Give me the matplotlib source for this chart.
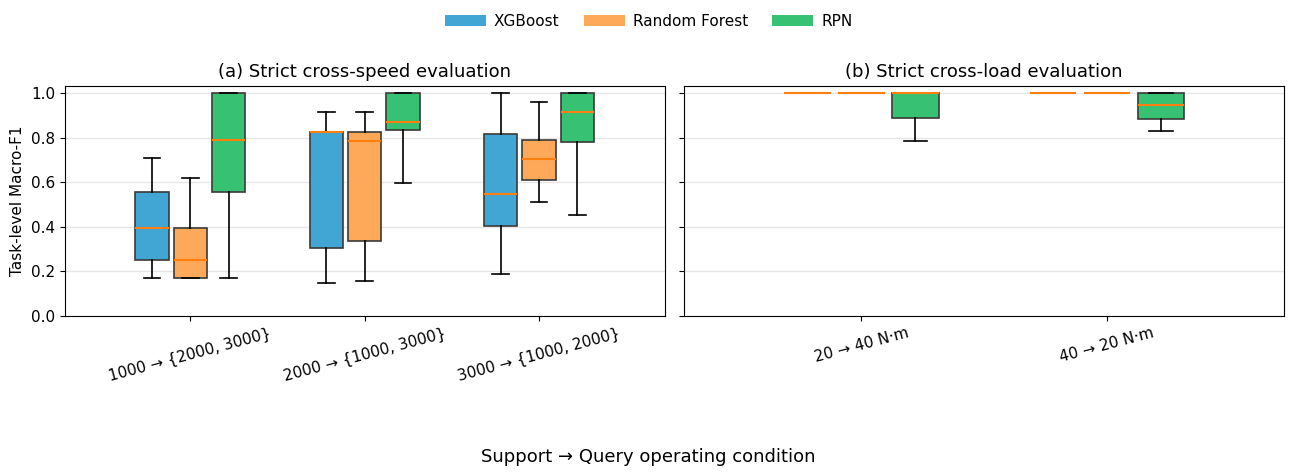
import matplotlib
matplotlib.use("Agg")
import matplotlib.pyplot as plt
from matplotlib.patches import Patch

# 手法と色
methods = ["XGBoost", "Random Forest", "RPN"]
colors = ["#41a6d4", "#fea85a", "#36c272"]

# (a) cross-speed の条件
speed_labels = ["1000 → {2000, 3000}", "2000 → {1000, 3000}", "3000 → {1000, 2000}"]
# 各手法ごと: [whislo, q1, med, q3, whishi] を条件順に
speed_xgb = [
    [0.168, 0.249, 0.393, 0.556, 0.711],
    [0.148, 0.304, 0.825, 0.825, 0.916],
    [0.186, 0.406, 0.547, 0.819, 1.000],
]
speed_rf = [
    [0.168, 0.168, 0.249, 0.393, 0.621],
    [0.157, 0.336, 0.784, 0.825, 0.916],
    [0.510, 0.612, 0.705, 0.789, 0.960],
]
speed_rpn = [
    [0.168, 0.558, 0.790, 1.000, 1.000],
    [0.598, 0.835, 0.871, 1.000, 1.000],
    [0.454, 0.783, 0.916, 1.000, 1.000],
]

# (b) cross-load の条件
load_labels = ["20 → 40 N·m", "40 → 20 N·m"]
load_xgb = [
    [1.0, 1.0, 1.0, 1.0, 1.0],
    [1.0, 1.0, 1.0, 1.0, 1.0],
]
load_rf = [
    [1.0, 1.0, 1.0, 1.0, 1.0],
    [1.0, 1.0, 1.0, 1.0, 1.0],
]
load_rpn = [
    [0.784, 0.889, 1.000, 1.000, 1.000],
    [0.831, 0.886, 0.946, 1.000, 1.000],
]


def to_stats(rows):
    out = []
    for lo, q1, med, q3, hi in rows:
        out.append({"whislo": lo, "q1": q1, "med": med, "q3": q3,
                    "whishi": hi, "fliers": []})
    return out


def draw_panel(ax, labels, series, title):
    offsets = [-0.22, 0.0, 0.22]
    n = len(labels)
    for k, rows in enumerate(series):
        pos = [i + offsets[k] for i in range(n)]
        ax.bxp(to_stats(rows), positions=pos, widths=0.19, patch_artist=True,
               showfliers=False,
               boxprops=dict(facecolor=colors[k], edgecolor="#3a3a3a", linewidth=1.2),
               medianprops=dict(color="#ff7f0e", linewidth=1.5),
               whiskerprops=dict(color="black", linewidth=1.2),
               capprops=dict(color="black", linewidth=1.2))
    ax.set_xticks(range(n))
    ax.set_xticklabels(labels, rotation=15, fontsize=11)
    ax.tick_params(axis="y", labelsize=11)
    ax.set_xlim(-0.72, n - 1 + 0.72)
    ax.set_ylim(0, 1.035)
    ax.set_title(title, fontsize=13)
    ax.yaxis.grid(True, color="#e6e6e6", linewidth=1)
    ax.set_axisbelow(True)


fig, (ax1, ax2) = plt.subplots(1, 2, figsize=(12.97, 4.75), dpi=100, sharey=True)
fig.subplots_adjust(left=0.05, right=0.99, top=0.82, bottom=0.335, wspace=0.033)

draw_panel(ax1, speed_labels, [speed_xgb, speed_rf, speed_rpn],
           "(a) Strict cross-speed evaluation")
draw_panel(ax2, load_labels, [load_xgb, load_rf, load_rpn],
           "(b) Strict cross-load evaluation")

ax1.set_ylabel("Task-level Macro-F1", fontsize=11)
ax1.set_yticks([0.0, 0.2, 0.4, 0.6, 0.8, 1.0])

handles = [Patch(facecolor=c, label=m) for c, m in zip(colors, methods)]
fig.legend(handles=handles, loc="upper center", ncol=3, frameon=False,
           bbox_to_anchor=(0.5, 1.0), fontsize=11, handlelength=2.7,
           handletextpad=0.5, columnspacing=1.6)
fig.supxlabel("Support → Query operating condition", fontsize=13, y=0.02)

plt.savefig("out.png", dpi=100)
plt.close()
